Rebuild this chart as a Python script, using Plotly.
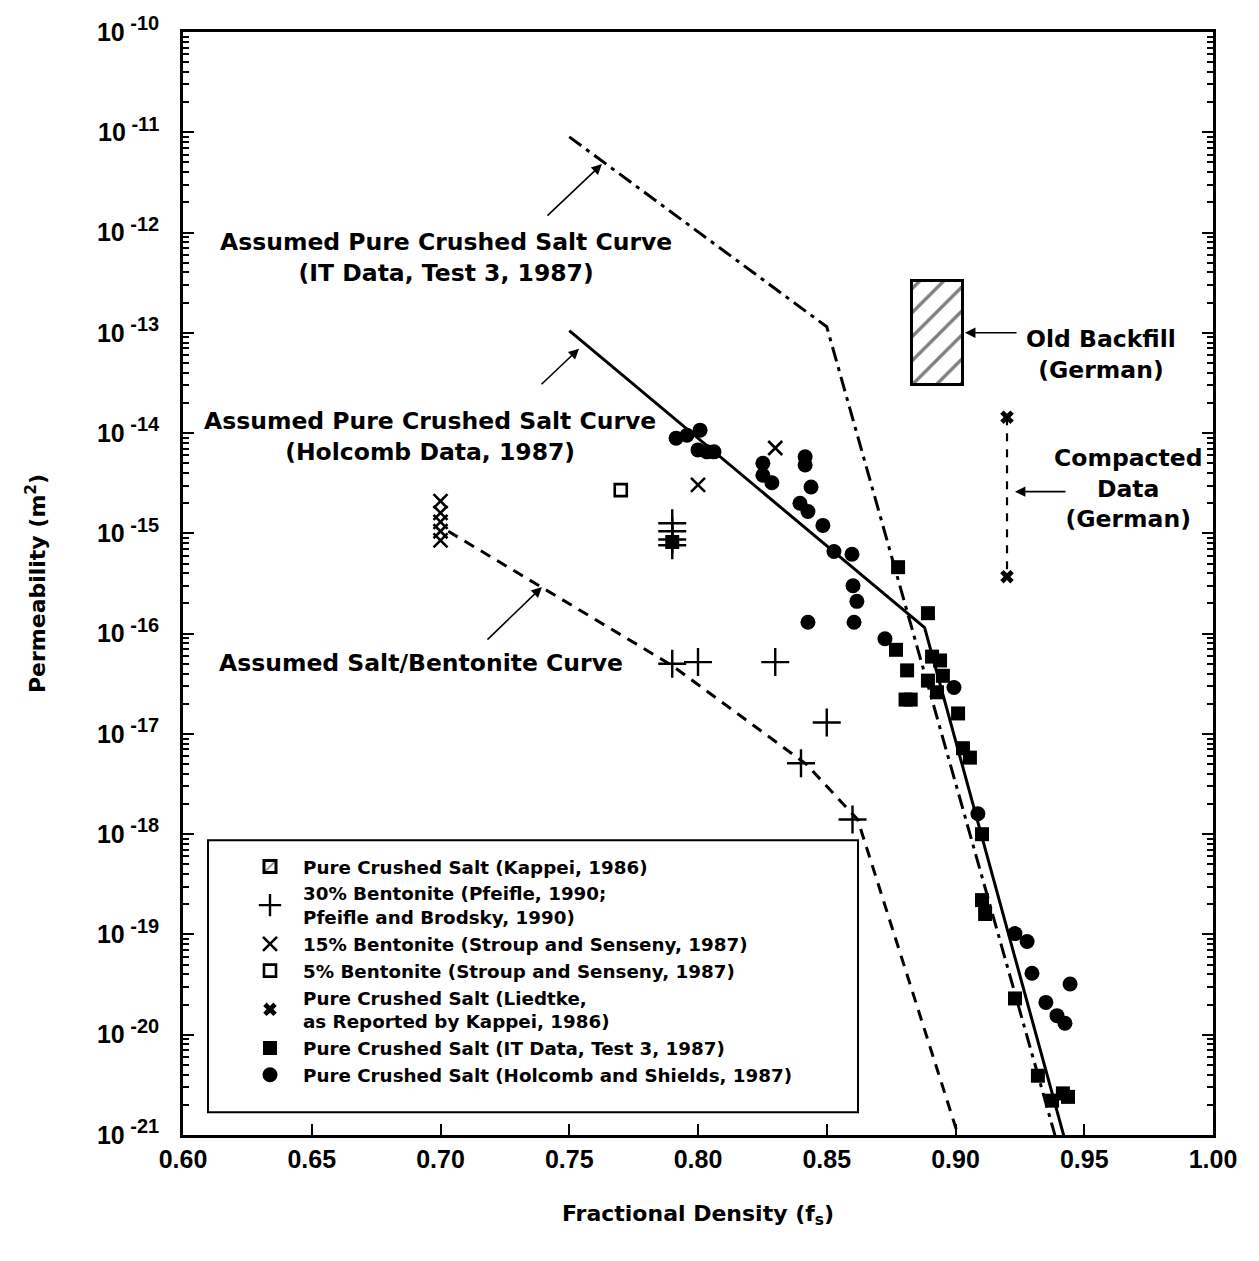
import plotly.graph_objects as go

# ---------------- data ----------------
# Assumed curves
it_curve_x = [0.75, 0.85, 0.942]
it_curve_y = [9.0e-12, 1.15e-13, 4.9e-22]
holcomb_curve_x = [0.75, 0.888, 0.945]
holcomb_curve_y = [1.05e-13, 1.15e-16, 5.2e-22]
bent_curve_x = [0.703, 0.79, 0.842, 0.862, 0.903]
bent_curve_y = [1.05e-15, 4.8e-17, 5.0e-18, 1.4e-18, 6.9e-22]

# Old backfill (German) - Kappei 1986 rectangle
backfill_x = [0.883, 0.903]
backfill_y = [3.0e-14, 3.3e-13]

# 30% Bentonite (Pfeifle)
bent30_x = [0.79, 0.79, 0.79, 0.79, 0.79, 0.80, 0.83, 0.85, 0.84, 0.86]
bent30_y = [1.26e-15, 1.05e-15, 8.7e-16, 7.6e-16, 5.0e-17, 5.2e-17, 5.2e-17,
            1.3e-17, 5.1e-18, 1.4e-18]

# 15% Bentonite (Stroup and Senseny)
bent15_x = [0.70, 0.70, 0.70, 0.70, 0.70, 0.80, 0.83]
bent15_y = [2.1e-15, 1.6e-15, 1.3e-15, 1.05e-15, 8.5e-16, 3.05e-15, 7.1e-15]

# 5% Bentonite
bent5_x = [0.77]
bent5_y = [2.7e-15]

# Liedtke compacted data (German)
liedtke_x = [0.92, 0.92]
liedtke_y = [1.44e-14, 3.7e-16]

# IT Data, Test 3
it_x = [0.79, 0.8777, 0.8893, 0.8909, 0.8940, 0.8769, 0.8812, 0.8893, 0.8951,
        0.8928, 0.8806, 0.8826, 0.9010, 0.9029, 0.9056, 0.9103, 0.9103, 0.9115,
        0.9231, 0.9320, 0.9375, 0.9417, 0.9437]
it_y = [8.2e-16, 4.6e-16, 1.6e-16, 5.9e-17, 5.4e-17, 6.9e-17, 4.3e-17, 3.4e-17,
        3.8e-17, 2.6e-17, 2.2e-17, 2.2e-17, 1.6e-17, 7.2e-18, 5.8e-18, 1.0e-18,
        2.2e-19, 1.6e-19, 2.3e-20, 3.9e-21, 2.2e-21, 2.6e-21, 2.4e-21]

# Holcomb and Shields
hol_x = [0.7915, 0.7957, 0.8008, 0.8000, 0.8035, 0.8062, 0.8252, 0.8252, 0.8287,
         0.8416, 0.8416, 0.8439, 0.8396, 0.8427, 0.8485, 0.8528, 0.8598, 0.8602,
         0.8617, 0.8427, 0.8606, 0.8726, 0.8994, 0.9087, 0.9231, 0.9278, 0.9297,
         0.9445, 0.9351, 0.9394, 0.9425]
hol_y = [8.9e-15, 9.5e-15, 1.07e-14, 6.8e-15, 6.5e-15, 6.5e-15, 5.0e-15, 3.8e-15,
         3.2e-15, 5.8e-15, 4.8e-15, 2.9e-15, 2.0e-15, 1.65e-15, 1.2e-15, 6.6e-16,
         6.2e-16, 3.0e-16, 2.1e-16, 1.3e-16, 1.3e-16, 8.9e-17, 2.9e-17, 1.6e-18,
         1.02e-19, 8.5e-20, 4.1e-20, 3.2e-20, 2.1e-20, 1.55e-20, 1.3e-20]

x_ticks = [0.60, 0.65, 0.70, 0.75, 0.80, 0.85, 0.90, 0.95, 1.00]
x_ticklabels = ["0.60", "0.65", "0.70", "0.75", "0.80", "0.85", "0.90", "0.95", "1.00"]
y_exponents = list(range(-21, -9))
y_ticks = [10.0 ** e for e in y_exponents]
y_ticklabels = ["10<sup><span style='font-size:20px'> %d</span></sup>" % e for e in y_exponents]
y_minor = [m * 10.0 ** e for e in range(-21, -10) for m in range(2, 10)]

FONT = "Liberation Sans"
WFONT = "DejaVu Sans"
fig = go.Figure()

# Hatched rectangle (Kappei)
fig.add_trace(go.Bar(
    x=[(backfill_x[0] + backfill_x[1]) / 2], y=[backfill_y[1] - backfill_y[0]],
    base=[backfill_y[0]], width=[backfill_x[1] - backfill_x[0]],
    marker=dict(color="white", line=dict(color="black", width=3),
                pattern=dict(shape="/", fgcolor="black", bgcolor="white",
                             size=17, solidity=0.2)),
    name="Pure Crushed Salt (Kappei, 1986)", showlegend=True))

# curves
fig.add_trace(go.Scatter(x=it_curve_x, y=it_curve_y, mode="lines",
                         line=dict(color="black", width=3, dash="15px,6px,4px,6px"),
                         showlegend=False, hoverinfo="skip"))
fig.add_trace(go.Scatter(x=holcomb_curve_x, y=holcomb_curve_y, mode="lines",
                         line=dict(color="black", width=3),
                         showlegend=False, hoverinfo="skip"))
fig.add_trace(go.Scatter(x=bent_curve_x, y=bent_curve_y, mode="lines",
                         line=dict(color="black", width=3, dash="11px,8px"),
                         showlegend=False, hoverinfo="skip"))
fig.add_trace(go.Scatter(x=liedtke_x, y=liedtke_y, mode="lines",
                         line=dict(color="black", width=2.2, dash="8px,8px"),
                         showlegend=False, hoverinfo="skip"))

# markers
fig.add_trace(go.Scatter(x=bent30_x, y=bent30_y, mode="markers",
                         marker=dict(symbol="cross-thin-open", size=20, color="black",
                                     line=dict(width=2.4, color="black")),
                         name="30% Bentonite (Pfeifle, 1990;<br>Pfeifle and Brodsky, 1990)"))
fig.add_trace(go.Scatter(x=bent15_x, y=bent15_y, mode="markers",
                         marker=dict(symbol="x-thin-open", size=14, color="black",
                                     line=dict(width=2.6, color="black")),
                         name="15% Bentonite (Stroup and Senseny, 1987)"))
fig.add_trace(go.Scatter(x=bent5_x, y=bent5_y, mode="markers",
                         marker=dict(symbol="square-open", size=12, color="black",
                                     line=dict(width=2.6, color="black")),
                         name="5% Bentonite (Stroup and Senseny, 1987)"))
fig.add_trace(go.Scatter(x=liedtke_x, y=liedtke_y, mode="markers",
                         marker=dict(symbol="x", size=12, color="black"),
                         name="Pure Crushed Salt (Liedtke,<br>as Reported by Kappei, 1986)"))
fig.add_trace(go.Scatter(x=it_x, y=it_y, mode="markers",
                         marker=dict(symbol="square", size=14, color="black"),
                         name="Pure Crushed Salt (IT Data, Test 3, 1987)"))
fig.add_trace(go.Scatter(x=hol_x, y=hol_y, mode="markers",
                         marker=dict(symbol="circle", size=15, color="black"),
                         name="Pure Crushed Salt (Holcomb and Shields, 1987)"))

ann_font = dict(family=WFONT, size=23.5, color="black", weight="bold")
annotations = [
    dict(x=0.7021, y=-12.245, text="Assumed Pure Crushed Salt Curve<br>(IT Data, Test 3, 1987)"),
    dict(x=0.6959, y=-14.035, text="Assumed Pure Crushed Salt Curve<br>(Holcomb Data, 1987)"),
    dict(x=0.6924, y=-16.29, text="Assumed Salt/Bentonite Curve"),
    dict(x=0.9565, y=-13.22, text="Old Backfill<br>(German)"),
    dict(x=0.967, y=-14.555, text="Compacted<br>Data<br>(German)"),
]
for a in annotations:
    fig.add_annotation(x=a["x"], y=a["y"], text=a["text"], showarrow=False,
                       font=ann_font, align="center", xanchor="center", yanchor="middle")

arrows = [(0.7627, -11.317, -56, 53), (0.7538, -13.158, -39, 37),
          (0.7394, -15.535, -56, 54), (0.9037, -13.0, 53, 0), (0.9231, -14.584, 52, 0)]
for (hx, hy, ax, ay) in arrows:
    fig.add_annotation(x=hx, y=hy, ax=ax, ay=ay, text="", showarrow=True,
                       arrowhead=2, arrowsize=1.3, arrowwidth=1.6, arrowcolor="black",
                       standoff=0)

# legend frame
fig.add_shape(type="rect", xref="paper", yref="paper",
              x0=(208 - 183) / 1030, x1=(858 - 183) / 1030,
              y0=(1135 - 1112) / 1111, y1=(1135 - 838) / 1111,
              line=dict(color="black", width=2), fillcolor="rgba(0,0,0,0)", layer="above")

fig.update_layout(
    width=1259, height=1261,
    margin=dict(l=183, r=46, t=24, b=126),
    paper_bgcolor="white", plot_bgcolor="white",
    font=dict(family=FONT, size=24, color="black", weight="bold"),
    showlegend=True,
    legend=dict(x=(237 - 183) / 1030, y=(1135 - 846) / 1111, xanchor="left", yanchor="top",
                bgcolor="rgba(0,0,0,0)", borderwidth=0,
                font=dict(family=WFONT, size=18.3, color="black", weight="bold"),
                itemwidth=56, tracegroupgap=0),
    xaxis=dict(range=[0.60, 1.00], tickmode="array", tickvals=x_ticks, ticktext=x_ticklabels,
               ticks="inside", ticklen=11, tickwidth=2, tickcolor="black",
               showline=True, linecolor="black", linewidth=2.5, mirror=True,
               showgrid=False, zeroline=False,
               tickfont=dict(family=FONT, size=25, weight="bold"),
               title=dict(text="Fractional Density (f<sub>s</sub>)", standoff=34,
                          font=dict(family=WFONT, size=22, weight="bold"))),
    yaxis=dict(type="log", range=[-21, -10], tickmode="array", tickvals=y_ticks,
               ticktext=y_ticklabels,
               ticks="inside", ticklen=11, tickwidth=2, tickcolor="black",
               minor=dict(tickmode="array", tickvals=y_minor, ticks="inside",
                          ticklen=6, tickwidth=2, tickcolor="black", showgrid=False),
               showline=True, linecolor="black", linewidth=2.5, mirror="allticks",
               showgrid=False, zeroline=False, ticklabelstandoff=16,
               tickfont=dict(family=FONT, size=25, weight="bold"),
               title=dict(text="Permeability (m<sup>2</sup>)", standoff=46,
                          font=dict(family=WFONT, size=22, weight="bold"))),
    bargap=0,
)

fig.write_html("out.html")
